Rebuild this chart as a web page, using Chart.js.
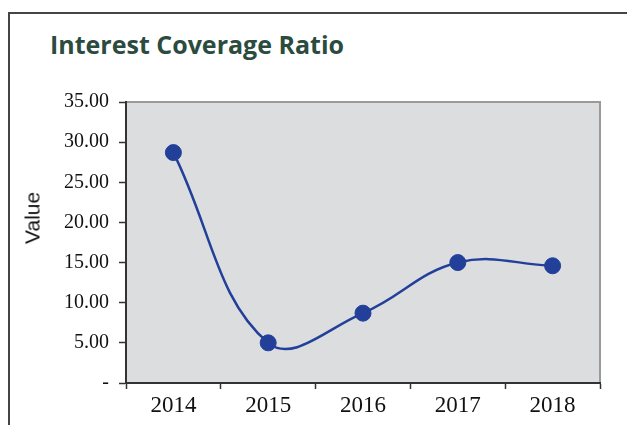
<!DOCTYPE html>
<html>
<head>
<meta charset="utf-8">
<script src="https://cdn.jsdelivr.net/npm/chart.js@4/dist/chart.umd.min.js"></script>
<style>
  html, body { margin: 0; padding: 0; background: #ffffff; overflow: hidden; }
  #wrap { position: relative; width: 627px; height: 425px; }
  #frame { position: absolute; left: 8px; top: 12px; width: 700px; height: 500px;
           border-left: 2px solid #454545; border-top: 2px solid #454545; box-sizing: border-box; }
  #title { position: absolute; left: 50px; top: 27px; font-family: "Open Sans", Lato, sans-serif;
           font-weight: 700; font-size: 25px; color: #2c4b3f; white-space: nowrap; }
  #ylab { position: absolute; left: 32px; top: 218px; width: 0; height: 0; }
  #ylab span { position: absolute; left: 0; top: 0; transform: translate(-50%, -50%) rotate(-90deg);
               font-family: "Liberation Sans", Arial, sans-serif; font-size: 21px; color: #111111; white-space: nowrap; line-height: 1; }
  canvas { position: absolute; left: 0; top: 0; }
</style>
</head>
<body>
<div id="wrap">
  <div id="frame"></div>
  <div id="title">Interest Coverage Ratio</div>
  <canvas id="c" width="627" height="425"></canvas>
  <div id="ylab"><span>Value</span></div>
</div>
<script>
const categories = ['2014', '2015', '2016', '2017', '2018'];
const values = [28.7, 5.0, 8.7, 15.0, 14.6];
const yTickValues = [0, 5, 10, 15, 20, 25, 30, 35];

const plotBg = {
  id: 'plotBg',
  beforeDraw(chart) {
    const { ctx, chartArea: a } = chart;
    ctx.save();
    ctx.fillStyle = '#dcdddf';
    ctx.fillRect(a.left, a.top, a.right - a.left, a.bottom - a.top);
    ctx.strokeStyle = '#9a9a9a';
    ctx.lineWidth = 2;
    ctx.beginPath();
    ctx.moveTo(a.left, a.top);
    ctx.lineTo(a.right, a.top);
    ctx.lineTo(a.right, a.bottom);
    ctx.stroke();
    ctx.restore();
  }
};

new Chart(document.getElementById('c'), {
  type: 'line',
  data: {
    labels: categories,
    datasets: [{
      data: values,
      borderColor: '#22409a',
      backgroundColor: '#22409a',
      borderWidth: 2.5,
      tension: 0.4,
      pointRadius: 8,
      pointBorderWidth: 1,
      pointBorderColor: '#22409a',
      pointBackgroundColor: '#22409a',
      fill: false
    }]
  },
  options: {
    responsive: false,
    animation: false,
    devicePixelRatio: 1,
    layout: { padding: { top: 102, right: 27, left: 0, bottom: 0 } },
    plugins: { legend: { display: false }, tooltip: { enabled: false }, title: { display: false } },
    scales: {
      x: {
        offset: true,
        grid: { offset: true, drawOnChartArea: false, tickLength: 6, tickColor: '#333333', tickWidth: 1.5 },
        border: { color: '#333333', width: 2 },
        ticks: { color: '#111111', font: { family: '"Liberation Serif", serif', size: 23 }, padding: 3, maxRotation: 0 },
        afterFit(scale) { scale.height = 42; }
      },
      y: {
        min: 0, max: 35,
        afterBuildTicks(scale) { scale.ticks = yTickValues.map(v => ({ value: v })); },
        grid: { drawOnChartArea: false, tickLength: 7, tickColor: '#333333', tickWidth: 1.5 },
        border: { color: '#333333', width: 2 },
        ticks: {
          color: '#111111',
          font: { family: '"Liberation Serif", serif', size: 20 },
          padding: 10,
          callback: v => v === 0 ? '-' : Number(v).toFixed(2)
        },
        afterFit(scale) { scale.width = 126; }
      }
    }
  },
  plugins: [plotBg]
});
</script>
</body>
</html>
